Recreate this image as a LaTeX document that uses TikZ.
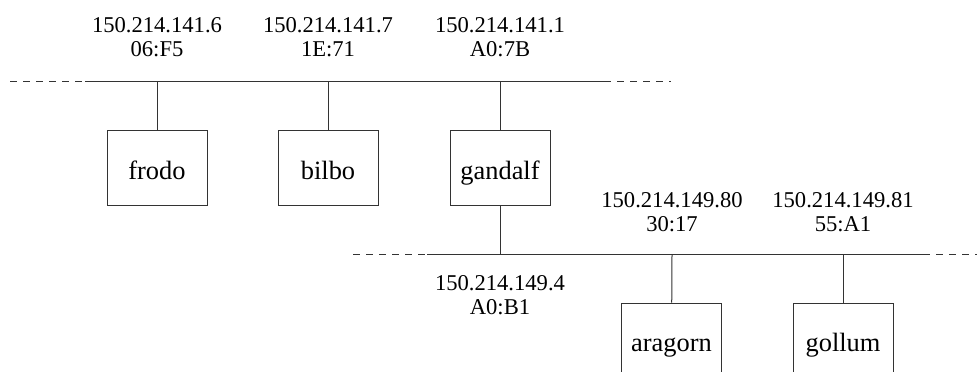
\documentclass[tikz,border=0pt]{standalone}
\usepackage{fontspec}
\setmainfont{Liberation Serif}
\usetikzlibrary{positioning}

\begin{document}
\begin{tikzpicture}[x=0.5pt,y=-0.5pt,
        host/.style={
                draw=black!80,
                line width=0.5pt,
                minimum width=50pt,
                minimum height=37.5pt,
                inner sep=0pt,
                text height=11pt,
                text depth=0pt,
                font=\fontsize{13.2}{14}\selectfont
            },
        addr/.style={
                align=center,
                inner sep=0pt,
                font=\fontsize{11.3}{12}\selectfont
            },
        wire/.style={draw=black!80, line width=0.5pt},
        wireend/.style={wire, dash pattern=on 3.3pt off 3.2pt},
    ]
    \clip (0,0) rectangle (977,371);
    %upper net
    \coordinate (ul) at (10,81);
    \coordinate (us) at (85,81);
    \coordinate (ue) at (604,81);
    \coordinate (ur) at (671,81);
    \coordinate (frodotap) at (157,81);
    \coordinate (bilbotap) at (328,81);
    \coordinate (gandalftap) at (500,81);
    %lower net
    \coordinate (ll) at (353,254);
    \coordinate (ls) at (427,254);
    \coordinate (le) at (923,254);
    \coordinate (lr) at (977,254);
    \coordinate (gandalfdown) at (500,254);
    \coordinate (aragorntap) at (672,254);
    \coordinate (gollumtap) at (843,254);
    %hosts
    \node[host] (frodo) at (157,168) {frodo};
    \node[host] (bilbo) at (328,168) {bilbo};
    \node[host] (gandalf) at (500,168) {gandalf};
    \node[host] (aragorn) at (671.5,340.5) {aragorn};
    \node[host] (gollum) at (843,340.5) {gollum};
    %addresses
    \node[addr, above=12pt of frodotap] (frodoaddr) {150.214.141.6\\06:F5};
    \node[addr, above=12pt of bilbotap] (bilboaddr) {150.214.141.7\\1E:71};
    \node[addr, above=12pt of gandalftap] (gandalfaddr) {150.214.141.1\\A0:7B};
    \node[addr, below=10.5pt of gandalfdown] (gandalfaddrb) {150.214.149.4\\A0:B1};
    \node[addr, above=11pt of aragorntap] (aragornaddr) {150.214.149.80\\30:17};
    \node[addr, above=11pt of gollumtap] (gollumaddr) {150.214.149.81\\55:A1};
    %cables
    \draw[wireend] (ul) -- (us);
    \draw[wire] (us) -- (ue);
    \draw[wireend] (ue) -- (ur);
    \draw[wireend] (ll) -- (ls);
    \draw[wire] (ls) -- (le);
    \draw[wireend] (le) -- (lr);
    \draw[wire] (frodotap) -- (frodo);
    \draw[wire] (bilbotap) -- (bilbo);
    \draw[wire] (gandalftap) -- (gandalf) -- (gandalfdown);
    \draw[wire] (aragorntap) -- (aragorn);
    \draw[wire] (gollumtap) -- (gollum);
\end{tikzpicture}
\end{document}
